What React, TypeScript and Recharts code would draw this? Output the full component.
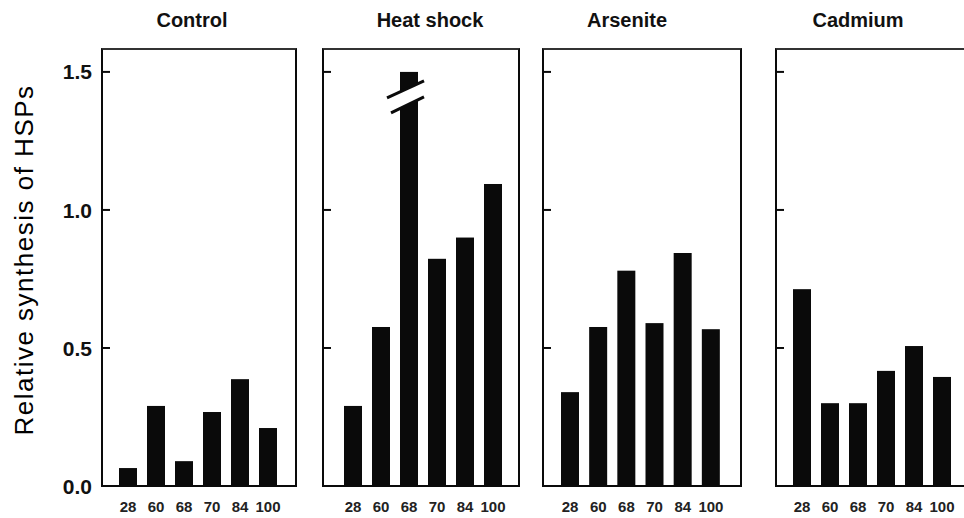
import React from 'react';
import { BarChart, Bar, XAxis, YAxis } from 'recharts';

const categories = ['28', '60', '68', '70', '84', '100'];
const controlValues = [0.065, 0.29, 0.09, 0.268, 0.387, 0.21];
const heatShockValues = [0.29, 0.576, 1.5, 0.823, 0.9, 1.094];
const arseniteValues = [0.34, 0.576, 0.78, 0.59, 0.844, 0.568];
const cadmiumValues = [0.713, 0.3, 0.3, 0.417, 0.507, 0.395];
const panelTitles = ['Control', 'Heat shock', 'Arsenite', 'Cadmium'];
const yTicks = [0, 0.5, 1.0, 1.5];
const brokenBars = ['68']; // heat shock bar drawn with an axis break
const yLabel = 'Relative synthesis of HSPs';

const INK = '#0a0a0a';
const PLOT_TOP = 49;
const CHART_H = 518;
const X_AXIS_H = 32;
const Y_MAX = 1.583;

// layout of each panel: where the plot box starts, padding of categories, title centre
const panels = [
  { values: controlValues, plotLeft: 102, plotWidth: 194, padL: 12, padR: 14, titleX: 192, axisW: 102, labels: true, broken: [] as string[] },
  { values: heatShockValues, plotLeft: 323, plotWidth: 196, padL: 16, padR: 12, titleX: 430, axisW: 12, labels: false, broken: brokenBars },
  { values: arseniteValues, plotLeft: 543, plotWidth: 198, padL: 13, padR: 16, titleX: 627, axisW: 12, labels: false, broken: [] as string[] },
  { values: cadmiumValues, plotLeft: 776, plotWidth: 195, padL: 12, padR: 15, titleX: 858, axisW: 12, labels: false, broken: [] as string[] },
];

const YTick = (props: any) => {
  const { x, y, payload, showLabel } = props;
  const edge = x + 10;
  return (
    <g>
      <line x1={edge} x2={edge + 8} y1={y} y2={y} stroke={INK} strokeWidth={2} />
      {showLabel && (
        <text x={x} y={y} dy="0.36em" textAnchor="end" fontFamily="Arial, 'Liberation Sans', sans-serif" fontWeight="bold" fontSize={21} fill="#111">
          {payload.value.toFixed(1)}
        </text>
      )}
    </g>
  );
};

const XTick = (props: any) => {
  const { x, y, payload } = props;
  return (
    <text x={x} y={y} dy="0.71em" textAnchor="middle" fontFamily="'Liberation Sans Narrow', 'Arial Narrow', Arial, sans-serif" fontWeight="bold" fontSize={15} fill="#222">
      {payload.value}
    </text>
  );
};

const makeShape = (broken: string[]) => (props: any) => {
  const { x, y, width, height, payload } = props;
  const bar = <rect x={x} y={y} width={width} height={height} fill={INK} />;
  if (!broken.includes(payload.cat)) return bar;
  return (
    <g>
      {bar}
      <polygon points={`${x - 13},${y + 26} ${x + 24},${y + 9} ${x + 24},${y + 25} ${x - 9},${y + 41}`} fill="#fff" />
      <line x1={x - 13} y1={y + 26} x2={x + 24} y2={y + 9} stroke={INK} strokeWidth={3} />
      <line x1={x - 9} y1={y + 41} x2={x + 24} y2={y + 25} stroke={INK} strokeWidth={3} />
    </g>
  );
};

const Panel: React.FC<{ p: typeof panels[number] }> = ({ p }) => {
  const data = categories.map((c, i) => ({ cat: c, value: p.values[i] }));
  const width = p.axisW + p.plotWidth + 4;
  return (
    <div style={{ position: 'absolute', left: p.plotLeft - p.axisW, top: 0 }}>
      <BarChart width={width} height={CHART_H} data={data} margin={{ top: PLOT_TOP, right: 4, bottom: 0, left: 0 }}>
        <XAxis
          dataKey="cat"
          height={X_AXIS_H}
          padding={{ left: p.padL, right: p.padR }}
          axisLine={{ stroke: INK, strokeWidth: 2 }}
          tickLine={false}
          tickSize={0}
          tickMargin={15}
          tick={<XTick />}
          interval={0}
        />
        <YAxis
          width={p.axisW}
          domain={[0, Y_MAX]}
          ticks={yTicks}
          allowDataOverflow
          axisLine={{ stroke: INK, strokeWidth: 2 }}
          tickLine={false}
          tickSize={0}
          tickMargin={10}
          tick={(t: any) => <YTick {...t} showLabel={p.labels} />}
          label={
            p.labels
              ? {
                  content: () => (
                    <text
                      x={24}
                      y={260}
                      transform="rotate(-90 24 260)"
                      textAnchor="middle"
                      dy="0.35em"
                      fontFamily="Arial, 'Liberation Sans', sans-serif"
                      fontSize={26}
                      letterSpacing={1.5}
                      fill="#000"
                    >
                      {yLabel}
                    </text>
                  ),
                }
              : undefined
          }
        />
        <Bar dataKey="value" barSize={18} fill={INK} isAnimationActive={false} shape={makeShape(p.broken)} />
      </BarChart>
      {/* panel frame */}
      <div
        style={{
          position: 'absolute',
          left: p.axisW - 1,
          top: PLOT_TOP - 1,
          width: p.plotWidth + 2,
          height: CHART_H - X_AXIS_H - PLOT_TOP + 2,
          boxSizing: 'border-box',
          border: `2px solid ${INK}`,
          borderTopColor: '#333',
          pointerEvents: 'none',
        }}
      />
    </div>
  );
};

export default function App() {
  return (
    <div style={{ position: 'absolute', left: 0, top: 0, width: 964, height: 518, overflow: 'hidden', background: '#fff' }}>
      {panels.map((p, i) => (
        <Panel key={panelTitles[i]} p={p} />
      ))}
      {panels.map((p, i) => (
        <div
          key={'t' + i}
          style={{
            position: 'absolute',
            left: p.titleX - 80,
            width: 160,
            top: 9,
            textAlign: 'center',
            fontFamily: "Arial, 'Liberation Sans', sans-serif",
            fontWeight: 'bold',
            fontSize: 20,
            color: '#111',
          }}
        >
          {panelTitles[i]}
        </div>
      ))}
    </div>
  );
}
